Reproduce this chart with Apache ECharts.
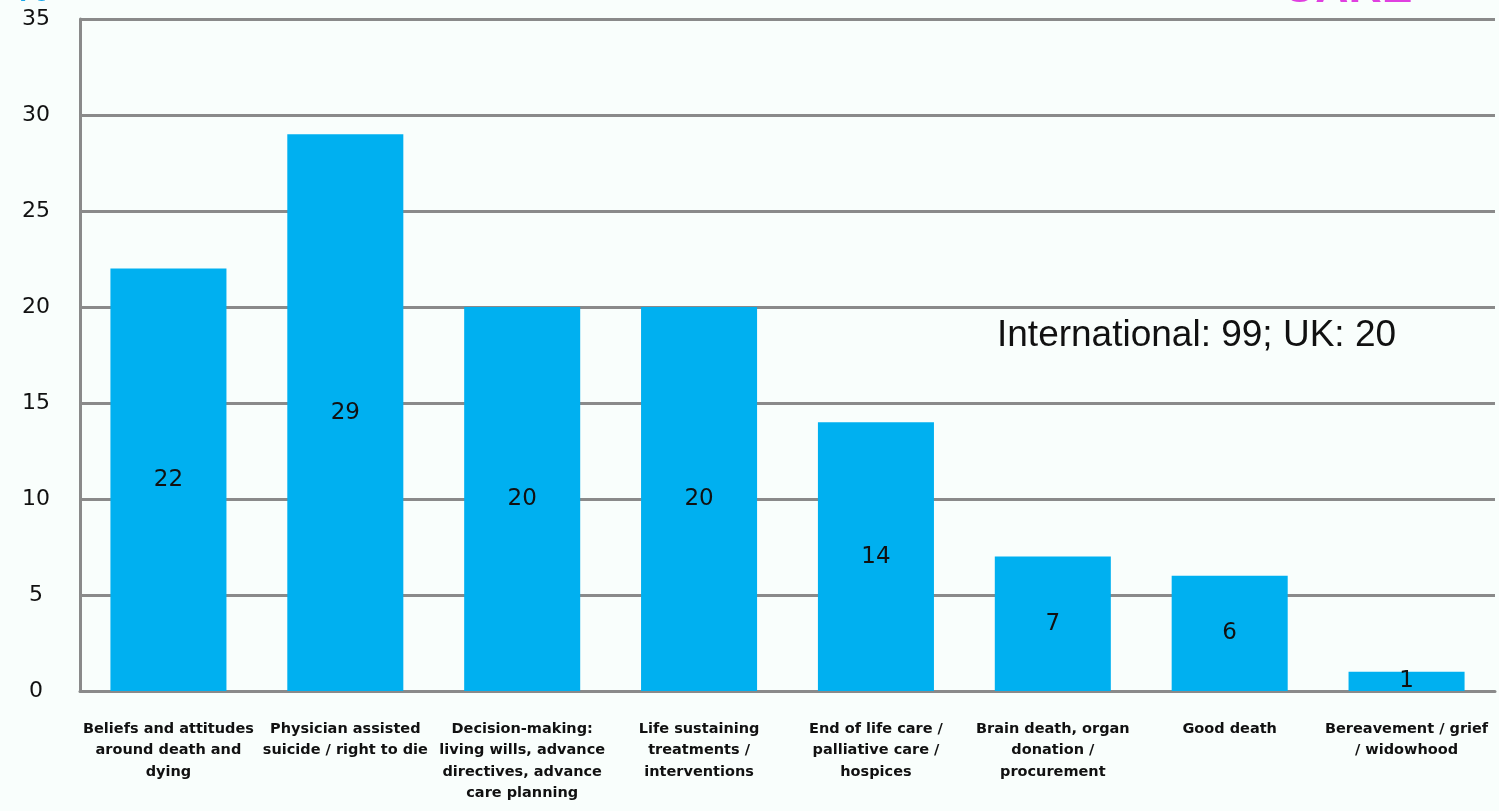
<!DOCTYPE html>
<html>
<head>
<meta charset="utf-8">
<script src="https://cdn.jsdelivr.net/npm/echarts@6/dist/echarts.min.js"></script>
<style>
  html, body { margin: 0; padding: 0; background: #f9fefc; }
  #chart { width: 1499px; height: 811px; }
</style>
</head>
<body>
<div id="chart"></div>
<script>
// Topic categories (wrapped as shown under each bar)
const categories = [
  'Beliefs and attitudes\naround death and\ndying',
  'Physician assisted\nsuicide / right to die',
  'Decision-making:\nliving wills, advance\ndirectives, advance\ncare planning',
  'Life sustaining\ntreatments /\ninterventions',
  'End of life care /\npalliative care /\nhospices',
  'Brain death, organ\ndonation /\nprocurement',
  'Good death',
  'Bereavement / grief\n/ widowhood'
];
// Percentage of items per topic
const values = [22, 29, 20, 20, 14, 7, 6, 1];
const yTicks = { min: 0, max: 35, interval: 5 };
const note = 'International: 99; UK: 20';

const chart = echarts.init(document.getElementById('chart'));
chart.setOption({
  backgroundColor: '#f9fefc',
  animation: false,
  grid: { left: 80, right: 4, top: 19, bottom: 120 },
  xAxis: {
    type: 'category',
    data: categories,
    axisLine: { lineStyle: { color: '#8a8a8a', width: 3 } },
    axisTick: { show: false },
    axisLabel: {
      interval: 0,
      margin: 27,
      color: '#111',
      fontFamily: 'DejaVu Sans',
      fontWeight: 'bold',
      fontSize: 14.5,
      lineHeight: 21.5,
      align: 'center'
    }
  },
  yAxis: {
    type: 'value',
    min: yTicks.min,
    max: yTicks.max,
    interval: yTicks.interval,
    axisLine: { show: true, lineStyle: { color: '#8a8a8a', width: 3 } },
    axisTick: { show: false },
    splitLine: { lineStyle: { color: '#8a8a8a', width: 3 } },
    axisLabel: {
      color: '#111',
      fontFamily: 'DejaVu Sans',
      fontSize: 22,
      align: 'center',
      margin: 44
    }
  },
  series: [{
    type: 'bar',
    data: values,
    barWidth: '65.6%',
    itemStyle: { color: '#00b0f0' },
    label: {
      show: true,
      position: 'inside',
      color: '#111',
      fontFamily: 'DejaVu Sans',
      fontSize: 23
    }
  }],
  graphic: [
    {
      type: 'text',
      left: 997,
      top: 317,
      style: { text: note, fill: '#111', font: '37px "Liberation Sans", Arial, sans-serif' }
    },
    {
      type: 'text',
      x: 14,
      y: -30,
      style: { text: '%', fill: '#1aa7e8', font: 'bold 40px "Liberation Sans", Arial, sans-serif', verticalAlign: 'top' }
    },
    {
      type: 'text',
      x: 1282,
      y: -34,
      style: { text: 'CARE', fill: '#e040e0', font: 'bold 46px "Liberation Sans", Arial, sans-serif', verticalAlign: 'top' }
    }
  ]
});
</script>
</body>
</html>
